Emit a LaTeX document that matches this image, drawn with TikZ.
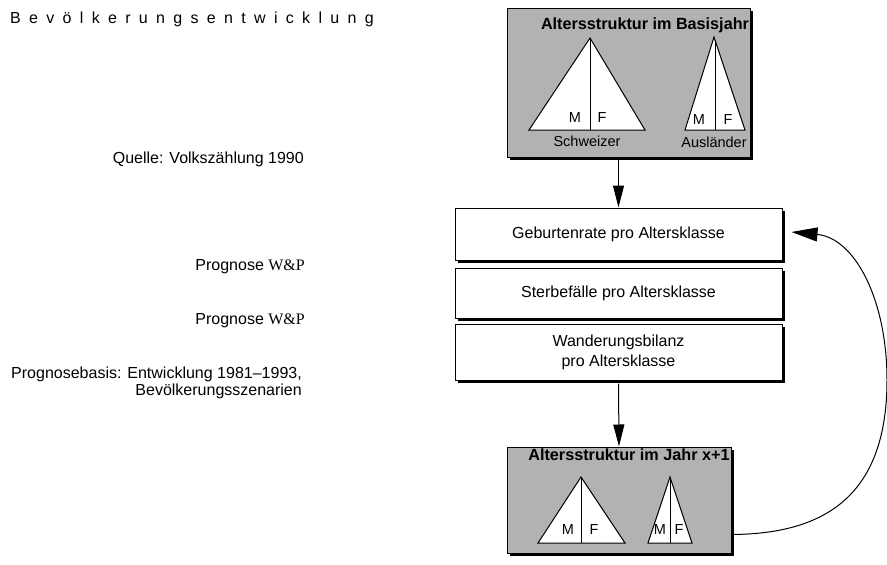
\documentclass[tikz,border=0pt]{standalone}
\usepackage{fontspec}
\setmainfont{Liberation Sans}
\newfontfamily\serifW{Liberation Serif}
\newfontfamily\spacedfont[LetterSpace=52]{Liberation Sans}
\usetikzlibrary{arrows.meta,shadows,calc}
\begin{document}
\begin{tikzpicture}[x=1pt,y=-1pt,
  txt/.style={font=\fontsize{16}{19}\selectfont, inner sep=0pt},
  boldtitle/.style={font=\fontsize{16.2}{18}\selectfont\bfseries, inner sep=0pt},
  lbl/.style={font=\fontsize{14.5}{16}\selectfont, inner sep=0pt},
  graybox/.style={draw=black, line width=1pt, fill=black!30, inner sep=0pt,
    drop shadow={shadow xshift=3pt, shadow yshift=-3pt, fill=black, opacity=1}},
  whitebox/.style={draw=black, line width=1pt, fill=white, inner sep=0pt, align=center,
    font=\fontsize{16}{20}\selectfont,
    drop shadow={shadow xshift=2.5pt, shadow yshift=-2.5pt, fill=black, opacity=1}},
  tri/.style={draw=black, line width=1pt, fill=white, line join=miter},
  midline/.style={draw=black, line width=1pt},
  downarr/.style={line width=1pt, -{Triangle[length=22pt,width=11pt]}},
  curvarr/.style={line width=1pt, -{Triangle[length=26pt,width=14pt]}}
]
\useasboundingbox (0,0) rectangle (887,565);

% left texts
\node[anchor=base west, inner sep=0pt, font=\fontsize{16}{19}\spacedfont] (title) at (10,23) {Bevölkerungsentwicklung};
\node[txt, anchor=base east] (quelle) at (304,163) {Quelle: Volkszählung 1990};
\node[txt, anchor=base east] (prog1) at (305,270) {Prognose {\serifW W\&P}};
\node[txt, anchor=base east] (prog2) at (305,324) {Prognose {\serifW W\&P}};
\node[txt, anchor=base east] (basis1) at (302,378) {Prognosebasis: Entwicklung 1981–1993,};
\node[txt, anchor=base east] (basis2) at (302,395) {Bevölkerungsszenarien};

% top gray box
\node[graybox, minimum width=243pt, minimum height=149pt] (top) at (628.5,82.5) {};
\node[boldtitle] (toptitle) at (645,25) {Altersstruktur im Basisjahr};
\draw[tri] (590,38) -- (529,130) -- (645,130) -- cycle;
\draw[midline] (590,38) -- (590,130);
\node[lbl] (m1) at (575,118) {M};
\node[lbl] (f1) at (602,118) {F};
\draw[tri] (714,37) -- (685,130) -- (745,130) -- cycle;
\draw[midline] (715,40) -- (715,130);
\node[lbl] (m2) at (699,120) {M};
\node[lbl] (f2) at (728,120) {F};
\node[lbl] (schw) at (587,141) {Schweizer};
\node[lbl] (ausl) at (714,142) {Ausländer};

% middle boxes
\node[whitebox, minimum width=327pt, minimum height=52pt] (geb) at (618.5,234) {Geburtenrate pro Altersklasse};
\node[whitebox, minimum width=327pt, minimum height=50pt] (sterb) at (618.5,293) {Sterbefälle pro Altersklasse};
\node[whitebox, minimum width=327pt, minimum height=56pt] (wand) at (618.5,352) {Wanderungsbilanz\\pro Altersklasse};

% bottom gray box
\node[graybox, minimum width=224pt, minimum height=106pt] (bot) at (619,500) {};
\node[boldtitle] (bottitle) at (629,455) {Altersstruktur im Jahr x+1};
\draw[tri] (581,477) -- (538,543) -- (625,543) -- cycle;
\draw[midline] (581,477) -- (581,543);
\node[lbl] (m3) at (568,530) {M};
\node[lbl] (f3) at (594,530) {F};
\draw[tri] (670,477) -- (648,543) -- (692,543) -- cycle;
\draw[midline] (670,480) -- (670,543);
\node[lbl] (m4) at (660,530) {M};
\node[lbl] (f4) at (679,530) {F};

% arrows
\draw[downarr] (geb.north |- top.south) -- (geb.north);
\draw[downarr] ($(wand.south)+(0,3)$) -- (bot.north);
\coordinate (cstart) at ($(bot.south east)+(0,-19)$);
\coordinate (cend) at ($(geb.east)+(9,-2)$);
\draw[curvarr] (cstart) .. controls (820,534) and (887,500) .. (887,380)
  .. controls (887,300) and (855,238) .. (cend);
\end{tikzpicture}
\end{document}
